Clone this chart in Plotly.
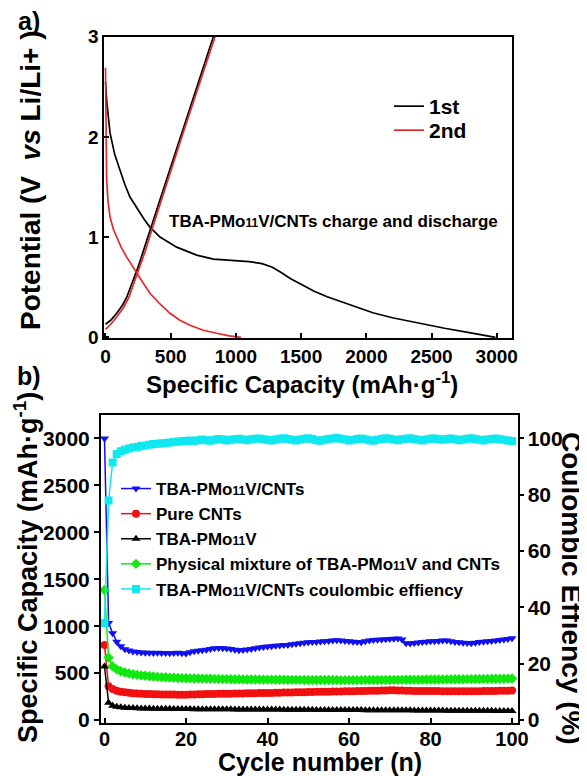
import plotly.graph_objects as go

# ---------------- Panel a data (capacity mAh/g, potential V) ----------------
dis1_cap = [0, 10, 35, 70, 111, 150, 188, 230, 265, 300, 341, 418, 546, 699, 827, 980,
            1100, 1200, 1280, 1350, 1420, 1500, 1600, 1700, 1800, 1900, 2050, 2200, 2400, 2600, 2800, 2990]
dis1_pot = [2.55, 2.35, 2.04, 1.83, 1.67, 1.52, 1.40, 1.31, 1.24, 1.17, 1.10, 1.00, 0.90, 0.82, 0.78, 0.77,
            0.755, 0.735, 0.70, 0.645, 0.585, 0.53, 0.46, 0.405, 0.36, 0.31, 0.245, 0.195, 0.14, 0.09, 0.045, 0.0]
chg1_cap = [0, 40, 86, 130, 163, 213, 250, 290, 341, 420, 500, 585, 660, 740, 827]
chg1_pot = [0.13, 0.17, 0.24, 0.32, 0.40, 0.57, 0.70, 0.86, 1.07, 1.38, 1.70, 2.04, 2.35, 2.67, 3.0]
dis2_cap = [0, 2, 5, 9, 20, 35, 60, 86, 120, 163, 200, 239, 290, 341, 420, 495, 570, 648, 750, 853, 950, 1040]
dis2_pot = [2.69, 2.35, 2.07, 1.57, 1.35, 1.20, 1.08, 1.00, 0.90, 0.80, 0.72, 0.64, 0.54, 0.44, 0.33, 0.24,
            0.17, 0.12, 0.07, 0.04, 0.015, 0.0]
chg2_cap = [0, 40, 90, 140, 180, 225, 265, 305, 355, 430, 510, 595, 675, 755, 840]
chg2_pot = [0.08, 0.13, 0.21, 0.30, 0.40, 0.57, 0.70, 0.86, 1.07, 1.38, 1.70, 2.04, 2.35, 2.67, 3.0]

# ---------------- Panel b data (cycle number) ----------------
cycles = list(range(0, 101))
cap_composite = [3000, 1035, 925, 835, 785, 755, 740, 730, 724, 720, 718, 716, 714, 716, 713, 715, 712, 714, 716, 712,
                 710, 722, 732, 738, 744, 750, 758, 764, 768, 766, 762, 756, 750, 744, 746, 752, 758, 765, 772, 778,
                 782, 786, 790, 794, 798, 800, 806, 812, 818, 824, 828, 830, 832, 836, 838, 842, 846, 850, 848, 842,
                 838, 834, 830, 828, 838, 846, 852, 856, 858, 860, 862, 866, 868, 858, 818, 814, 820, 826, 830, 834,
                 838, 840, 842, 846, 848, 840, 832, 828, 824, 820, 818, 824, 830, 834, 838, 842, 846, 852, 858, 864,
                 870]
cap_cnts = [800, 360, 330, 312, 302, 295, 290, 286, 283, 280, 278, 276, 275, 274, 273, 272, 272, 271, 270, 270,
            270, 272, 273, 274, 275, 276, 277, 278, 279, 280, 280, 281, 282, 283, 283, 284, 285, 286, 287, 288,
            288, 289, 290, 291, 292, 293, 294, 295, 296, 297, 298, 299, 300, 301, 302, 302, 303, 304, 305, 306,
            306, 307, 308, 309, 310, 311, 312, 313, 314, 315, 316, 316, 315, 314, 312, 311, 310, 310, 309, 309,
            308, 308, 308, 307, 307, 307, 307, 306, 306, 306, 306, 307, 307, 308, 308, 309, 310, 311, 312, 313,
            314]
cap_pom = [570, 185, 152, 142, 136, 132, 129, 127, 125, 124, 123, 122, 121, 120, 120, 119, 119, 118, 118, 117,
           117, 117, 116, 116, 116, 115, 115, 115, 114, 114, 114, 114, 113, 113, 113, 113, 112, 112, 112, 112,
           111, 111, 111, 111, 110, 110, 110, 110, 109, 109, 109, 109, 108, 108, 108, 108, 107, 107, 107, 107,
           106, 106, 106, 106, 105, 105, 105, 105, 104, 104, 104, 104, 103, 103, 103, 103, 102, 102, 102, 102,
           101, 101, 101, 101, 100, 100, 100, 100, 99, 99, 99, 99, 98, 98, 98, 98, 97, 97, 97, 97,
           96]
cap_mix = [1385, 665, 572, 540, 520, 506, 496, 488, 481, 476, 471, 467, 463, 460, 457, 455, 452, 450, 448, 446,
           445, 444, 443, 442, 441, 440, 439, 438, 437, 436, 436, 435, 434, 434, 433, 432, 432, 431, 431, 430,
           430, 430, 429, 429, 429, 428, 428, 428, 428, 427, 427, 427, 427, 426, 426, 426, 426, 426, 425, 425,
           425, 425, 425, 425, 426, 426, 426, 426, 427, 427, 427, 428, 428, 428, 429, 429, 430, 430, 430, 431,
           431, 432, 432, 433, 433, 434, 434, 435, 435, 436, 436, 437, 437, 438, 438, 439, 439, 440, 440, 441,
           442]
ce_composite = [34.5, 78, 91.5, 94.5, 95.5, 96, 96.4, 96.8, 97, 97.3, 97.5, 97.8, 98, 98.1, 98.3, 98.4, 98.6, 98.7, 98.9, 99,
                99.1, 99.3, 99.1, 99.4, 99.6, 99.4, 99.2, 99.5, 99.8, 99.6, 99.3, 99.5, 99.7, 99.9, 99.6, 99.4, 99.7, 99.9, 100, 99.7,
                99.5, 99.3, 99.6, 99.9, 100.1, 99.8, 99.5, 99.3, 99.6, 99.9, 100.1, 99.8, 99.4, 99.2, 99.5, 99.8, 100, 100.2, 99.9, 99.6,
                99.3, 99.5, 99.8, 100, 99.7, 99.4, 99.2, 99.5, 99.8, 100.1, 99.9, 99.6, 99.4, 99.7, 99.9, 100.1, 99.8, 99.5, 99.3, 99.6,
                99.9, 100, 99.7, 99.5, 99.8, 100, 99.7, 99.4, 99.6, 99.9, 100.1, 99.8, 99.5, 99.3, 99.6, 99.8, 100, 99.7, 99.5, 99.3,
                99.1]

for arr in (cap_composite, cap_cnts, cap_pom, cap_mix, ce_composite):
    assert len(arr) == len(cycles), len(arr)

SUB11 = "<span style='font-size:12px'>11</span>"
series_names = [
    "TBA-PMo" + SUB11 + "V/CNTs",
    "Pure CNTs",
    "TBA-PMo" + SUB11 + "V",
    "Physical mixture of TBA-PMo" + SUB11 + "V and CNTs",
    "TBA-PMo" + SUB11 + "V/CNTs coulombic effiency",
]

FONT = "Liberation Sans, Arial, sans-serif"
BLACK = "#000000"
RED = "#e8262a"

fig = go.Figure()

# Panel a
fig.add_trace(go.Scatter(x=dis1_cap, y=dis1_pot, mode="lines", line=dict(color=BLACK, width=1.7),
                         name="1st", legend="legend", showlegend=True, xaxis="x", yaxis="y"))
fig.add_trace(go.Scatter(x=chg1_cap, y=chg1_pot, mode="lines", line=dict(color=BLACK, width=1.7),
                         name="1st", legend="legend", showlegend=False, xaxis="x", yaxis="y"))
fig.add_trace(go.Scatter(x=dis2_cap, y=dis2_pot, mode="lines", line=dict(color=RED, width=1.7),
                         name="2nd", legend="legend3", showlegend=True, xaxis="x", yaxis="y"))
fig.add_trace(go.Scatter(x=chg2_cap, y=chg2_pot, mode="lines", line=dict(color=RED, width=1.7),
                         name="2nd", legend="legend3", showlegend=False, xaxis="x", yaxis="y"))

# Panel b
specs = [
    (cap_composite, "#1010f0", "triangle-down", "y2"),
    (cap_cnts, "#f01010", "circle", "y2"),
    (cap_pom, "#000000", "triangle-up", "y2"),
    (cap_mix, "#10e810", "diamond", "y2"),
    (ce_composite, "#10e8f0", "square", "y3"),
]
for i, (vals, col, sym, yax) in enumerate(specs):
    fig.add_trace(go.Scatter(x=cycles, y=vals, mode="lines+markers", name=series_names[i],
                             line=dict(color=col, width=1.5),
                             marker=dict(color=col, symbol=sym, size=8, line=dict(width=0)),
                             legend="legend2", legendgroup="g%d" % i,
                             xaxis="x2", yaxis=yax))

# The page body has an 8 px margin: positions below are screen pixels.
OFF = 8
W, H = 587 - OFF, 776 - OFF
def px(x):
    return (x - OFF) / W
def py(y):
    return 1 - (y - OFF) / H

axis_common = dict(showline=True, linecolor=BLACK, linewidth=2, mirror=True, showgrid=False,
                   zeroline=False, tickcolor=BLACK, ticklen=5, tickwidth=1.5, automargin=False)
legend_common = dict(xanchor="left", yanchor="top", bgcolor="rgba(0,0,0,0)", itemwidth=30)

fig.update_layout(
    width=W, height=H, autosize=False,
    margin=dict(l=0, r=0, t=0, b=0, pad=0, autoexpand=False),
    paper_bgcolor="white", plot_bgcolor="white",
    font=dict(family=FONT, color=BLACK, size=16, weight="bold"),
    xaxis=dict(domain=[px(104.3), px(512)], range=[-9, 3117], anchor="y",
               tickvals=[0, 500, 1000, 1500, 2000, 2500, 3000], ticks="inside",
               tickfont=dict(size=19, family=FONT, weight="bold"), **axis_common),
    yaxis=dict(domain=[py(338.3), py(36.7)], range=[-0.01, 3.0], anchor="x",
               tickvals=[0, 1, 2, 3], ticks="inside",
               tickfont=dict(size=19, family=FONT, weight="bold"), **axis_common),
    xaxis2=dict(domain=[px(101), px(517.5)], range=[-0.86, 101.35], anchor="y2",
                tickvals=[0, 20, 40, 60, 80, 100], ticks="inside", ticklabelstandoff=-3,
                tickfont=dict(size=20, family=FONT, weight="bold"), **axis_common),
    yaxis2=dict(domain=[py(723.3), py(415)], range=[-35, 3250], anchor="x2",
                tickvals=[0, 500, 1000, 1500, 2000, 2500, 3000], ticks="outside",
                tickfont=dict(size=21, family=FONT, weight="bold"), **axis_common),
    yaxis3=dict(overlaying="y2", side="right", anchor="x2", range=[-35 / 30, 3250 / 30],
                tickvals=[0, 20, 40, 60, 80, 100], ticks="outside", showline=False, showgrid=False,
                zeroline=False, tickcolor=BLACK, ticklen=5, tickwidth=1.5, automargin=False,
                tickfont=dict(size=21, family=FONT, weight="bold")),
    legend=dict(x=px(389), y=py(86), font=dict(size=21, family=FONT, weight="bold"), **legend_common),
    legend3=dict(x=px(389), y=py(110), font=dict(size=21, family=FONT, weight="bold"), **legend_common),
    legend2=dict(x=px(116), y=py(471), font=dict(size=17, family=FONT, weight="bold"),
                 traceorder="grouped", tracegroupgap=0, **legend_common),
)

ann = dict(xref="paper", yref="paper", showarrow=False, xanchor="center", yanchor="middle",
           font=dict(family=FONT, color=BLACK, weight="bold"))
annotations = [
    dict(text="a)", x=px(29), y=py(21), font=dict(size=25, family=FONT, weight="bold")),
    dict(text="b)", x=px(29), y=py(376), font=dict(size=25, family=FONT, weight="bold")),
    dict(text="Specific Capacity (mAh\u00b7g<sup>-1</sup>)", x=px(302), y=py(383),
         font=dict(size=24, family=FONT, weight="bold")),
    dict(text="Potential (V  <i>vs</i> Li/Li+ )", x=px(30), y=py(180), textangle=-90,
         font=dict(size=28, family=FONT, weight="bold")),
    dict(text="TBA-PMo" + SUB11 + "V/CNTs charge and discharge", x=px(333), y=py(221),
         font=dict(size=17, family=FONT, weight="bold")),
    dict(text="Cycle number (n)", x=px(320), y=py(762), font=dict(size=25, family=FONT, weight="bold")),
    dict(text="Specific Capacity (mAh\u00b7g<sup>-1</sup>)", x=px(26), y=py(568), textangle=-90,
         font=dict(size=27, family=FONT, weight="bold")),
    dict(text="Coulombic Effiency (%)", x=px(572), y=py(588), textangle=90,
         font=dict(size=28, family=FONT, weight="bold")),
]
fig.update_layout(annotations=[{**ann, **a} for a in annotations])

fig.write_html("out.html")
